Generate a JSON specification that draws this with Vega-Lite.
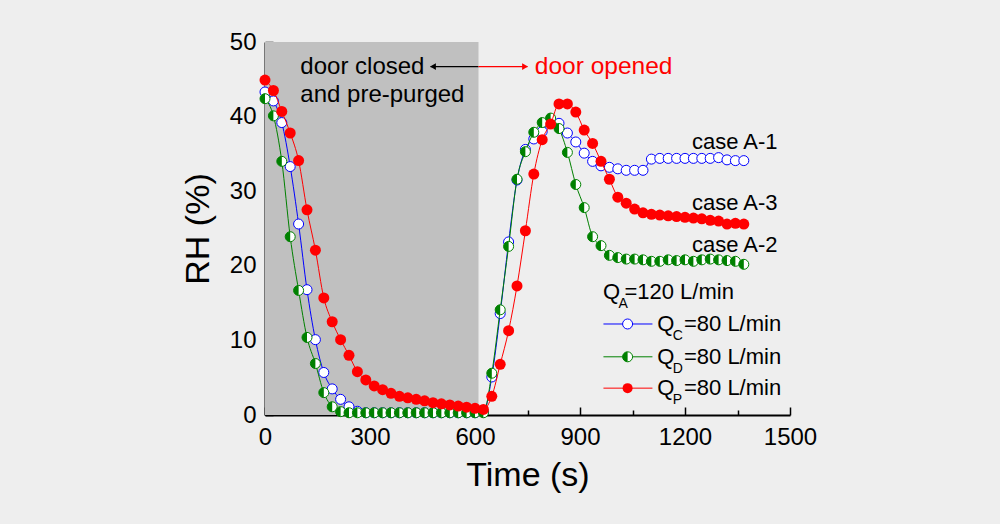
{
  "$schema": "https://vega.github.io/schema/vega-lite/v6.json",
  "width": 525,
  "height": 373,
  "autosize": "none",
  "padding": {"left": 265, "top": 42, "right": 210, "bottom": 109},
  "background": "#eeeeee",
  "config": {
    "view": {"stroke": null, "fill": "#eeeeee"},
    "font": "Liberation Sans",
    "axis": {"zindex": 1}
  },
  "datasets": {
    "rh": [
      {"t": 0, "c": 43.3, "d": 42.4, "p": 44.9},
      {"t": 24, "c": 42.1, "d": 40.1, "p": 43.5},
      {"t": 48, "c": 39.2, "d": 34.0, "p": 40.7},
      {"t": 72, "c": 33.3, "d": 23.9, "p": 37.8},
      {"t": 96, "c": 25.6, "d": 16.7, "p": 34.1},
      {"t": 120, "c": 16.8, "d": 10.4, "p": 27.5},
      {"t": 144, "c": 10.1, "d": 6.9, "p": 22.1},
      {"t": 168, "c": 5.7, "d": 3.0, "p": 15.7},
      {"t": 192, "c": 3.5, "d": 1.1, "p": 12.5},
      {"t": 216, "c": 2.1, "d": 0.45, "p": 10.1},
      {"t": 240, "c": 1.1, "d": 0.3, "p": 8.0},
      {"t": 264, "c": 0.5, "d": 0.3, "p": 5.8},
      {"t": 288, "c": 0.3, "d": 0.3, "p": 4.7},
      {"t": 312, "c": 0.3, "d": 0.3, "p": 3.9},
      {"t": 336, "c": 0.3, "d": 0.3, "p": 3.4},
      {"t": 360, "c": 0.3, "d": 0.3, "p": 2.9},
      {"t": 384, "c": 0.3, "d": 0.3, "p": 2.5},
      {"t": 408, "c": 0.3, "d": 0.3, "p": 2.3},
      {"t": 432, "c": 0.3, "d": 0.3, "p": 2.1},
      {"t": 456, "c": 0.3, "d": 0.3, "p": 1.9},
      {"t": 480, "c": 0.3, "d": 0.3, "p": 1.65},
      {"t": 504, "c": 0.3, "d": 0.3, "p": 1.5},
      {"t": 528, "c": 0.3, "d": 0.3, "p": 1.35},
      {"t": 552, "c": 0.3, "d": 0.3, "p": 1.2},
      {"t": 576, "c": 0.3, "d": 0.3, "p": 1.05},
      {"t": 600, "c": 0.3, "d": 0.3, "p": 0.9},
      {"t": 624, "c": 0.4, "d": 0.3, "p": 0.75},
      {"t": 648, "c": 5.1, "d": 5.6, "p": 2.5},
      {"t": 672, "c": 13.6, "d": 14.1, "p": 6.8},
      {"t": 696, "c": 23.2, "d": 22.6, "p": 11.3},
      {"t": 720, "c": 31.5, "d": 31.6, "p": 17.3},
      {"t": 744, "c": 35.6, "d": 35.3, "p": 24.7},
      {"t": 768, "c": 37.0, "d": 37.9, "p": 32.3},
      {"t": 792, "c": 38.0, "d": 39.2, "p": 36.9},
      {"t": 816, "c": 39.2, "d": 39.8, "p": 39.0},
      {"t": 840, "c": 39.1, "d": 38.4, "p": 41.7},
      {"t": 864, "c": 37.8, "d": 35.2, "p": 41.7},
      {"t": 888, "c": 36.6, "d": 30.9, "p": 40.6},
      {"t": 912, "c": 35.1, "d": 27.8, "p": 38.2},
      {"t": 936, "c": 34.0, "d": 23.9, "p": 36.4},
      {"t": 960, "c": 33.4, "d": 22.7, "p": 34.0},
      {"t": 984, "c": 33.2, "d": 21.4, "p": 31.6},
      {"t": 1008, "c": 33.0, "d": 21.1, "p": 29.2},
      {"t": 1032, "c": 32.8, "d": 20.9, "p": 28.4},
      {"t": 1056, "c": 32.8, "d": 20.9, "p": 27.6},
      {"t": 1080, "c": 32.8, "d": 20.8, "p": 27.1},
      {"t": 1104, "c": 34.3, "d": 20.6, "p": 26.9},
      {"t": 1128, "c": 34.4, "d": 20.6, "p": 26.8},
      {"t": 1152, "c": 34.4, "d": 20.8, "p": 26.7},
      {"t": 1176, "c": 34.4, "d": 20.7, "p": 26.6},
      {"t": 1200, "c": 34.4, "d": 20.8, "p": 26.5},
      {"t": 1224, "c": 34.4, "d": 20.6, "p": 26.4},
      {"t": 1248, "c": 34.4, "d": 20.8, "p": 26.3},
      {"t": 1272, "c": 34.4, "d": 20.9, "p": 26.1},
      {"t": 1296, "c": 34.5, "d": 20.8, "p": 26.0},
      {"t": 1320, "c": 34.2, "d": 20.7, "p": 25.6},
      {"t": 1344, "c": 34.1, "d": 20.6, "p": 25.7},
      {"t": 1368, "c": 34.1, "d": 20.2, "p": 25.6}
    ],
    "arrows": [
      {"a": 473, "b": 610, "y": 46.7, "col": "black"},
      {"a": 610, "b": 750, "y": 46.7, "col": "red"}
    ],
    "heads": [
      {"x": 480, "y": 46.7, "col": "black", "shp": "triangle-left"},
      {"x": 743, "y": 46.7, "col": "red", "shp": "triangle-right"}
    ],
    "legend": [
      {"a": 967, "b": 1107, "m": 1036, "y": 12.2, "col": "#0000ff", "s": "c"},
      {"a": 967, "b": 1107, "m": 1036, "y": 7.8, "col": "#008000", "s": "d"},
      {"a": 967, "b": 1107, "m": 1036, "y": 3.6, "col": "#ff0000", "s": "p"}
    ],
    "texts": [
      {"x": 101, "y": 46.7, "txt": "door closed", "fs": 24, "col": "black"},
      {"x": 101, "y": 42.9, "txt": "and pre-purged", "fs": 24, "col": "black"},
      {"x": 771, "y": 46.7, "txt": "door opened", "fs": 24.5, "col": "#ff0000"},
      {"x": 1220, "y": 36.6, "txt": "case A-1", "fs": 22, "col": "black"},
      {"x": 1220, "y": 28.4, "txt": "case A-3", "fs": 22, "col": "black"},
      {"x": 1220, "y": 22.8, "txt": "case A-2", "fs": 22, "col": "black"},
      {"x": 966, "y": 16.5, "txt": "Q", "fs": 22, "col": "black"},
      {"x": 1010, "y": 14.9, "txt": "A", "fs": 14, "col": "black"},
      {"x": 1027, "y": 16.5, "txt": "=120 L/min", "fs": 22, "col": "black"},
      {"x": 1121, "y": 12.2, "txt": "Q", "fs": 22, "col": "black"},
      {"x": 1165, "y": 10.6, "txt": "C", "fs": 14, "col": "black"},
      {"x": 1197, "y": 12.2, "txt": "=80 L/min", "fs": 22, "col": "black"},
      {"x": 1121, "y": 7.8, "txt": "Q", "fs": 22, "col": "black"},
      {"x": 1165, "y": 6.2, "txt": "D", "fs": 14, "col": "black"},
      {"x": 1197, "y": 7.8, "txt": "=80 L/min", "fs": 22, "col": "black"},
      {"x": 1121, "y": 3.6, "txt": "Q", "fs": 22, "col": "black"},
      {"x": 1165, "y": 2.0, "txt": "P", "fs": 14, "col": "black"},
      {"x": 1197, "y": 3.6, "txt": "=80 L/min", "fs": 22, "col": "black"}
    ]
  },
  "layer": [
    {
      "data": {"values": [{"a": 0, "b": 610, "lo": 0, "hi": 50}]},
      "mark": {"type": "rect", "color": "#c0c0c0"},
      "encoding": {
        "x": {"field": "a", "type": "quantitative", "scale": {"domain": [0, 1500], "nice": false},
          "axis": {"title": "Time (s)", "titleFontSize": 34, "titleFontWeight": "normal", "titleColor": "black", "titlePadding": 6,
            "values": [0, 150, 300, 450, 600, 750, 900, 1050, 1200, 1350, 1500],
            "labelExpr": "datum.value % 300 === 0 ? datum.label : ''", "format": "d",
            "labelFontSize": 24, "labelColor": "black", "labelPadding": 18, "labelFlush": false, "labelOverlap": false,
            "grid": false, "domainColor": "black", "domainWidth": 2, "tickColor": "black", "tickWidth": 1.5,
            "tickSize": {"condition": {"test": "datum.value % 300 === 0", "value": -8}, "value": -5}}},
        "x2": {"field": "b"},
        "y": {"field": "lo", "type": "quantitative", "scale": {"domain": [0, 50], "nice": false},
          "axis": {"title": "RH (%)", "titleFontSize": 34, "titleFontWeight": "normal", "titleColor": "black", "titlePadding": 14,
            "values": [0, 5, 10, 15, 20, 25, 30, 35, 40, 45, 50],
            "labelExpr": "datum.value % 10 === 0 ? datum.label : ''",
            "labelFontSize": 24, "labelColor": "black", "labelPadding": 17, "labelFlush": false, "labelOverlap": false,
            "grid": false, "domainColor": "black", "domainWidth": 2, "tickColor": "black", "tickWidth": 1.5,
            "tickSize": {"condition": {"test": "datum.value % 10 === 0", "value": -8}, "value": -5}}},
        "y2": {"field": "hi"}
      }
    },
    {
      "mark": {"type": "rule", "color": "black", "strokeWidth": 2},
      "encoding": {"y": {"datum": 50}}
    },
    {
      "mark": {"type": "rule", "color": "black", "strokeWidth": 2},
      "encoding": {"x": {"datum": 1500}}
    },
    {
      "mark": {"type": "rule", "color": "#ff0000", "strokeWidth": 1, "strokeDash": [4, 3]},
      "encoding": {"x": {"datum": 610}}
    },
    {
      "data": {"name": "arrows"},
      "mark": {"type": "rule", "strokeWidth": 1.2},
      "encoding": {
        "x": {"field": "a", "type": "quantitative"},
        "x2": {"field": "b"},
        "y": {"field": "y", "type": "quantitative"},
        "color": {"field": "col", "type": "nominal", "scale": null}
      }
    },
    {
      "data": {"name": "heads"},
      "mark": {"type": "point", "filled": true, "opacity": 1, "size": 45},
      "encoding": {
        "x": {"field": "x", "type": "quantitative"},
        "y": {"field": "y", "type": "quantitative"},
        "shape": {"field": "shp", "type": "nominal", "scale": null},
        "color": {"field": "col", "type": "nominal", "scale": null}
      }
    },
    {
      "data": {"name": "rh"},
      "mark": {"type": "line", "color": "#0000ff", "strokeWidth": 1, "interpolate": "monotone"},
      "encoding": {"x": {"field": "t", "type": "quantitative"}, "y": {"field": "c", "type": "quantitative"}}
    },
    {
      "data": {"name": "rh"},
      "mark": {"type": "point", "shape": "circle", "filled": true, "fill": "white", "stroke": "#0000ff", "strokeWidth": 1, "size": 100, "opacity": 1},
      "encoding": {"x": {"field": "t", "type": "quantitative"}, "y": {"field": "c", "type": "quantitative"}}
    },
    {
      "data": {"name": "rh"},
      "mark": {"type": "line", "color": "#008000", "strokeWidth": 1, "interpolate": "monotone"},
      "encoding": {"x": {"field": "t", "type": "quantitative"}, "y": {"field": "d", "type": "quantitative"}}
    },
    {
      "data": {"name": "rh"},
      "mark": {"type": "point", "shape": "circle", "filled": true, "fill": "white", "stroke": "#008000", "strokeWidth": 1, "size": 100, "opacity": 1},
      "encoding": {"x": {"field": "t", "type": "quantitative"}, "y": {"field": "d", "type": "quantitative"}}
    },
    {
      "data": {"name": "rh"},
      "mark": {"type": "point", "shape": "M0,-1A1,1,0,0,0,0,1Z", "filled": true, "fill": "#008000", "strokeWidth": 0, "size": 100, "opacity": 1},
      "encoding": {"x": {"field": "t", "type": "quantitative"}, "y": {"field": "d", "type": "quantitative"}}
    },
    {
      "data": {"name": "rh"},
      "mark": {"type": "line", "color": "#ff0000", "strokeWidth": 1, "interpolate": "monotone"},
      "encoding": {"x": {"field": "t", "type": "quantitative"}, "y": {"field": "p", "type": "quantitative"}}
    },
    {
      "data": {"name": "rh"},
      "mark": {"type": "point", "shape": "circle", "filled": true, "fill": "#ff0000", "strokeWidth": 0, "size": 121, "opacity": 1},
      "encoding": {"x": {"field": "t", "type": "quantitative"}, "y": {"field": "p", "type": "quantitative"}}
    },
    {
      "data": {"name": "legend"},
      "mark": {"type": "rule", "strokeWidth": 1},
      "encoding": {
        "x": {"field": "a", "type": "quantitative"},
        "x2": {"field": "b"},
        "y": {"field": "y", "type": "quantitative"},
        "color": {"field": "col", "type": "nominal", "scale": null}
      }
    },
    {
      "data": {"name": "legend"},
      "transform": [{"filter": "datum.s !== 'p'"}],
      "mark": {"type": "point", "shape": "circle", "filled": true, "fill": "white", "strokeWidth": 1, "size": 100, "opacity": 1},
      "encoding": {
        "x": {"field": "m", "type": "quantitative"},
        "y": {"field": "y", "type": "quantitative"},
        "stroke": {"field": "col", "type": "nominal", "scale": null}
      }
    },
    {
      "data": {"name": "legend"},
      "transform": [{"filter": "datum.s !== 'c'"}],
      "mark": {"type": "point", "filled": true, "strokeWidth": 0, "size": 100, "opacity": 1},
      "encoding": {
        "x": {"field": "m", "type": "quantitative"},
        "y": {"field": "y", "type": "quantitative"},
        "shape": {"condition": {"test": "datum.s === 'd'", "value": "M0,-1A1,1,0,0,0,0,1Z"}, "value": "circle"},
        "fill": {"field": "col", "type": "nominal", "scale": null}
      }
    },
    {
      "data": {"name": "texts"},
      "mark": {"type": "text", "align": "left", "baseline": "middle", "font": "Liberation Sans"},
      "encoding": {
        "x": {"field": "x", "type": "quantitative"},
        "y": {"field": "y", "type": "quantitative"},
        "text": {"field": "txt"},
        "size": {"field": "fs", "type": "quantitative", "scale": null},
        "color": {"field": "col", "type": "nominal", "scale": null}
      }
    }
  ]
}
